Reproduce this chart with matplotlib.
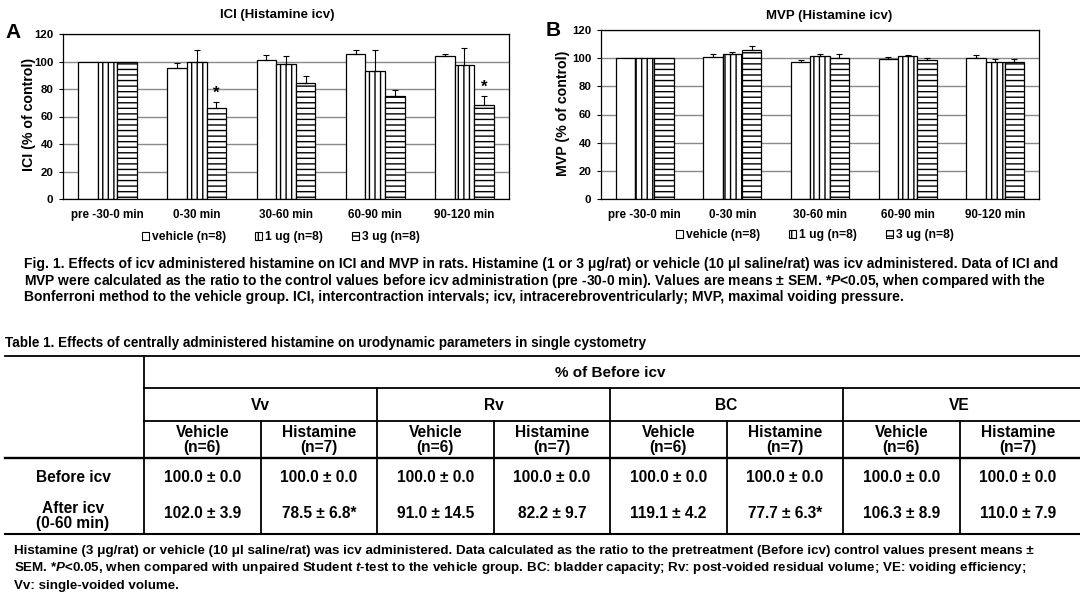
import matplotlib
matplotlib.use('Agg')
import matplotlib.pyplot as plt
import numpy as np
from matplotlib.patches import Patch
from matplotlib.lines import Line2D

plt.rcParams['font.family'] = ['Liberation Sans', 'DejaVu Sans']
plt.rcParams['font.weight'] = 'bold'
plt.rcParams['mathtext.fontset'] = 'custom'
plt.rcParams['mathtext.it'] = 'Liberation Sans:italic:bold'
plt.rcParams['mathtext.rm'] = 'Liberation Sans:bold'
plt.rcParams['hatch.linewidth'] = 1.0

# ---------------- data ----------------
categories = ['pre -30-0 min', '0-30 min', '30-60 min', '60-90 min', '90-120 min']
series_names = ['vehicle (n=8)', '1 ug (n=8)', '3 ug (n=8)']

ici_vehicle = [100, 95.6, 101.2, 105.6, 103.9]
ici_vehicle_sem = [0, 3.2, 3.2, 2.9, 1.5]
ici_1ug = [100, 99.3, 98.0, 92.9, 97.6]
ici_1ug_sem = [0, 9.0, 5.7, 15.6, 12.2]
ici_3ug = [100, 66.3, 84.1, 74.6, 68.3]
ici_3ug_sem = [0, 3.9, 5.4, 4.4, 6.3]
ici_3ug_sig = [False, True, False, False, True]

mvp_vehicle = [100, 100.7, 97.2, 99.3, 99.8]
mvp_vehicle_sem = [0, 2.1, 1.4, 1.4, 2.1]
mvp_1ug = [100, 102.8, 101.4, 101.4, 97.6]
mvp_1ug_sem = [0, 1.7, 1.9, 0.5, 1.7]
mvp_3ug = [100, 105.7, 100.0, 98.6, 97.6]
mvp_3ug_sem = [0, 2.8, 2.8, 1.4, 1.7]
mvp_3ug_sig = [False, False, False, False, False]

table_params = ['Vv', 'Rv', 'BC', 'VE']
table_groups = ['Vehicle\n(n=6)', 'Histamine\n(n=7)']
table_rows = ['Before icv', 'After icv\n(0-60 min)']
before_mean = [[100.0, 100.0], [100.0, 100.0], [100.0, 100.0], [100.0, 100.0]]
before_sem = [[0.0, 0.0], [0.0, 0.0], [0.0, 0.0], [0.0, 0.0]]
after_mean = [[102.0, 78.5], [91.0, 82.2], [119.1, 77.7], [106.3, 110.0]]
after_sem = [[3.9, 6.8], [14.5, 9.7], [4.2, 6.3], [8.9, 7.9]]
after_sig = [[False, True], [False, False], [False, True], [False, False]]

caption_lines = [
    "Fig. 1. Effects of icv administered histamine on ICI and MVP in rats. Histamine (1 or 3 \u03bcg/rat) or vehicle (10 \u03bcl saline/rat) was icv administered. Data of ICI and",
    "MVP were calculated as the ratio to the control values before icv administration (pre -30-0 min). Values are means \u00b1 SEM. *$P$<0.05, when compared with the",
    "Bonferroni method to the vehicle group. ICI, intercontraction intervals; icv, intracerebroventricularly; MVP, maximal voiding pressure.",
]
table_title = "Table 1. Effects of centrally administered histamine on urodynamic parameters in single cystometry"
footnote_lines = [
    "Histamine (3 \u03bcg/rat) or vehicle (10 \u03bcl saline/rat) was icv administered. Data calculated as the ratio to the pretreatment (Before icv) control values present means \u00b1",
    "SEM. *$P$<0.05, when compared with unpaired Student $t$-test to the vehicle group. BC: bladder capacity; Rv: post-voided residual volume; VE: voiding efficiency;",
    "Vv: single-voided volume.",
]

# ---------------- layout helpers ----------------
W, H = 1080, 598
fig = plt.figure(figsize=(W / 100, H / 100), dpi=100)
fig.patch.set_facecolor('white')


def fx(px):
    return px / W


def fy(py):
    return 1 - py / H


def ax_rect(l, t, r, b):
    return [fx(l), fy(b), fx(r) - fx(l), fy(t) - fy(b)]


hatches = ['', '|||', '---']


def draw_panel(ax, vals, sems, sig):
    x = np.arange(len(categories))
    w = 0.22
    for i, (v, s, h) in enumerate(zip(vals, sems, hatches)):
        v = np.asarray(v, float)
        s = np.asarray(s, float)
        xi = x + (i - 1) * w
        ax.bar(xi, v, w, color='white', edgecolor='black', hatch=h,
               linewidth=0.9, zorder=2)
        m = s > 0
        ax.errorbar(xi[m], v[m], yerr=[np.zeros(m.sum()), s[m]], fmt='none',
                    ecolor='black', elinewidth=0.8, capsize=2, capthick=0.8,
                    zorder=3)
        if i == 2:
            for xx, vv, ss, sg in zip(xi, v, s, sig):
                if sg:
                    ax.text(xx, vv + ss + 6.5, '*', ha='center', va='center',
                            fontsize=12, fontweight='bold')
    ax.set_xlim(-0.5, len(categories) - 0.5)
    ax.set_ylim(0, 120)
    ax.set_yticks(np.arange(0, 121, 20))
    ax.yaxis.grid(True, color='#8a8a8a', linewidth=1.0, zorder=0)
    ax.set_axisbelow(True)
    ax.set_xticks(x)
    ax.set_xticklabels(categories, fontsize=8.4, fontweight='bold')
    ax.tick_params(axis='x', length=0, pad=7)
    ax.tick_params(axis='y', length=3, width=0.8, pad=4, labelsize=8.2)
    for t in ax.get_yticklabels():
        t.set_fontweight('bold')
    for sp in ax.spines.values():
        sp.set_linewidth(0.9)
        sp.set_color('black')


def legend_handles():
    return [Patch(facecolor='white', edgecolor='black', hatch=h, linewidth=0.8)
            for h in hatches]


# Panel A
axA = fig.add_axes(ax_rect(63, 34, 509, 199))
draw_panel(axA, [ici_vehicle, ici_1ug, ici_3ug],
           [ici_vehicle_sem, ici_1ug_sem, ici_3ug_sem], ici_3ug_sig)
fig.text(fx(277), fy(15), 'ICI (Histamine icv)', ha='center', va='center',
         fontsize=9.5, fontweight='bold')
fig.text(fx(13), fy(32), 'A', ha='center', va='center', fontsize=15,
         fontweight='bold')
fig.text(fx(29), fy(114), 'ICI (% of control)', rotation=90, ha='center',
         va='center', fontsize=10.2, fontweight='bold')
fig.legend(legend_handles(), series_names, loc='center',
           bbox_to_anchor=(fx(281), fy(237)), ncol=3, frameon=False,
           handlelength=0.6, handleheight=0.6,
           handletextpad=0.25, columnspacing=2.4, borderpad=0,
           prop={'weight': 'bold', 'size': 8.7})

# Panel B
axB = fig.add_axes(ax_rect(601, 30, 1039, 199))
draw_panel(axB, [mvp_vehicle, mvp_1ug, mvp_3ug],
           [mvp_vehicle_sem, mvp_1ug_sem, mvp_3ug_sem], mvp_3ug_sig)
fig.text(fx(829), fy(16), 'MVP (Histamine icv)', ha='center', va='center',
         fontsize=9.5, fontweight='bold')
fig.text(fx(553), fy(31), 'B', ha='center', va='center', fontsize=15,
         fontweight='bold')
fig.text(fx(563), fy(113), 'MVP (% of control)', rotation=90, ha='center',
         va='center', fontsize=10.2, fontweight='bold')
fig.legend(legend_handles(), series_names, loc='center',
           bbox_to_anchor=(fx(815), fy(235)), ncol=3, frameon=False,
           handlelength=0.6, handleheight=0.6,
           handletextpad=0.25, columnspacing=2.4, borderpad=0,
           prop={'weight': 'bold', 'size': 8.7})

# Caption
cap_fs = 10.0
for i, line in enumerate(caption_lines):
    fig.text(fx(24), fy(264 + 16.5 * i), line, ha='left', va='center',
             fontsize=cap_fs, fontweight='bold')

fig.text(fx(5), fy(343), table_title, ha='left', va='center',
         fontsize=9.75, fontweight='bold')

# ---------------- table ----------------
def hline(y, x0, x1, lw=1.3):
    fig.add_artist(Line2D([fx(x0), fx(x1)], [fy(y), fy(y)], color='black',
                          linewidth=lw, transform=fig.transFigure))


def vline(x, y0, y1, lw=1.3):
    fig.add_artist(Line2D([fx(x), fx(x)], [fy(y0), fy(y1)], color='black',
                          linewidth=lw, transform=fig.transFigure))


t_left, t_x0, t_right = 5, 144, 1076
y_top, y_h1, y_h2, y_h3, y_bot = 356, 388, 421, 458, 534
n_par = len(table_params)
n_grp = len(table_groups)
gw = (t_right - t_x0) / n_par
cw = gw / n_grp

hline(y_top, t_left, W)
hline(y_h1, t_x0, W)
hline(y_h2, t_x0, W)
hline(y_h3, t_left, W, lw=1.7)
hline(y_bot, t_left, W, lw=1.5)
vline(t_x0, y_top, y_bot)
for p in range(1, n_par):
    vline(t_x0 + p * gw, y_h1, y_bot)
for p in range(n_par):
    vline(t_x0 + p * gw + cw, y_h2, y_bot)

tfs = 11.2
fig.text(fx((t_x0 + t_right) / 2), fy(373), '% of Before icv', ha='center',
         va='center', fontsize=11, fontweight='bold')
for p, name in enumerate(table_params):
    fig.text(fx(t_x0 + p * gw + gw / 2), fy(405), name, ha='center',
             va='center', fontsize=tfs, fontweight='bold')
    for g, gname in enumerate(table_groups):
        cx = t_x0 + p * gw + g * cw + cw / 2
        fig.text(fx(cx), fy(440), gname, ha='center', va='center',
                 fontsize=tfs, fontweight='bold', linespacing=1.0)
        s1 = f"{before_mean[p][g]:.1f} \u00b1 {before_sem[p][g]:.1f}"
        fig.text(fx(cx), fy(478), s1, ha='center', va='center',
                 fontsize=tfs, fontweight='bold')
        s2 = f"{after_mean[p][g]:.1f} \u00b1 {after_sem[p][g]:.1f}" + ('*' if after_sig[p][g] else '')
        fig.text(fx(cx), fy(514), s2, ha='center', va='center',
                 fontsize=tfs, fontweight='bold')

fig.text(fx(73), fy(478), table_rows[0], ha='center', va='center',
         fontsize=tfs, fontweight='bold')
fig.text(fx(73), fy(516), table_rows[1], ha='center', va='center',
         fontsize=tfs, fontweight='bold', linespacing=1.05)

for i, line in enumerate(footnote_lines):
    fig.text(fx(14), fy(551 + 17.5 * i), line, ha='left', va='center',
             fontsize=9.6, fontweight='bold')

fig.savefig('out.png', dpi=100, facecolor='white')
